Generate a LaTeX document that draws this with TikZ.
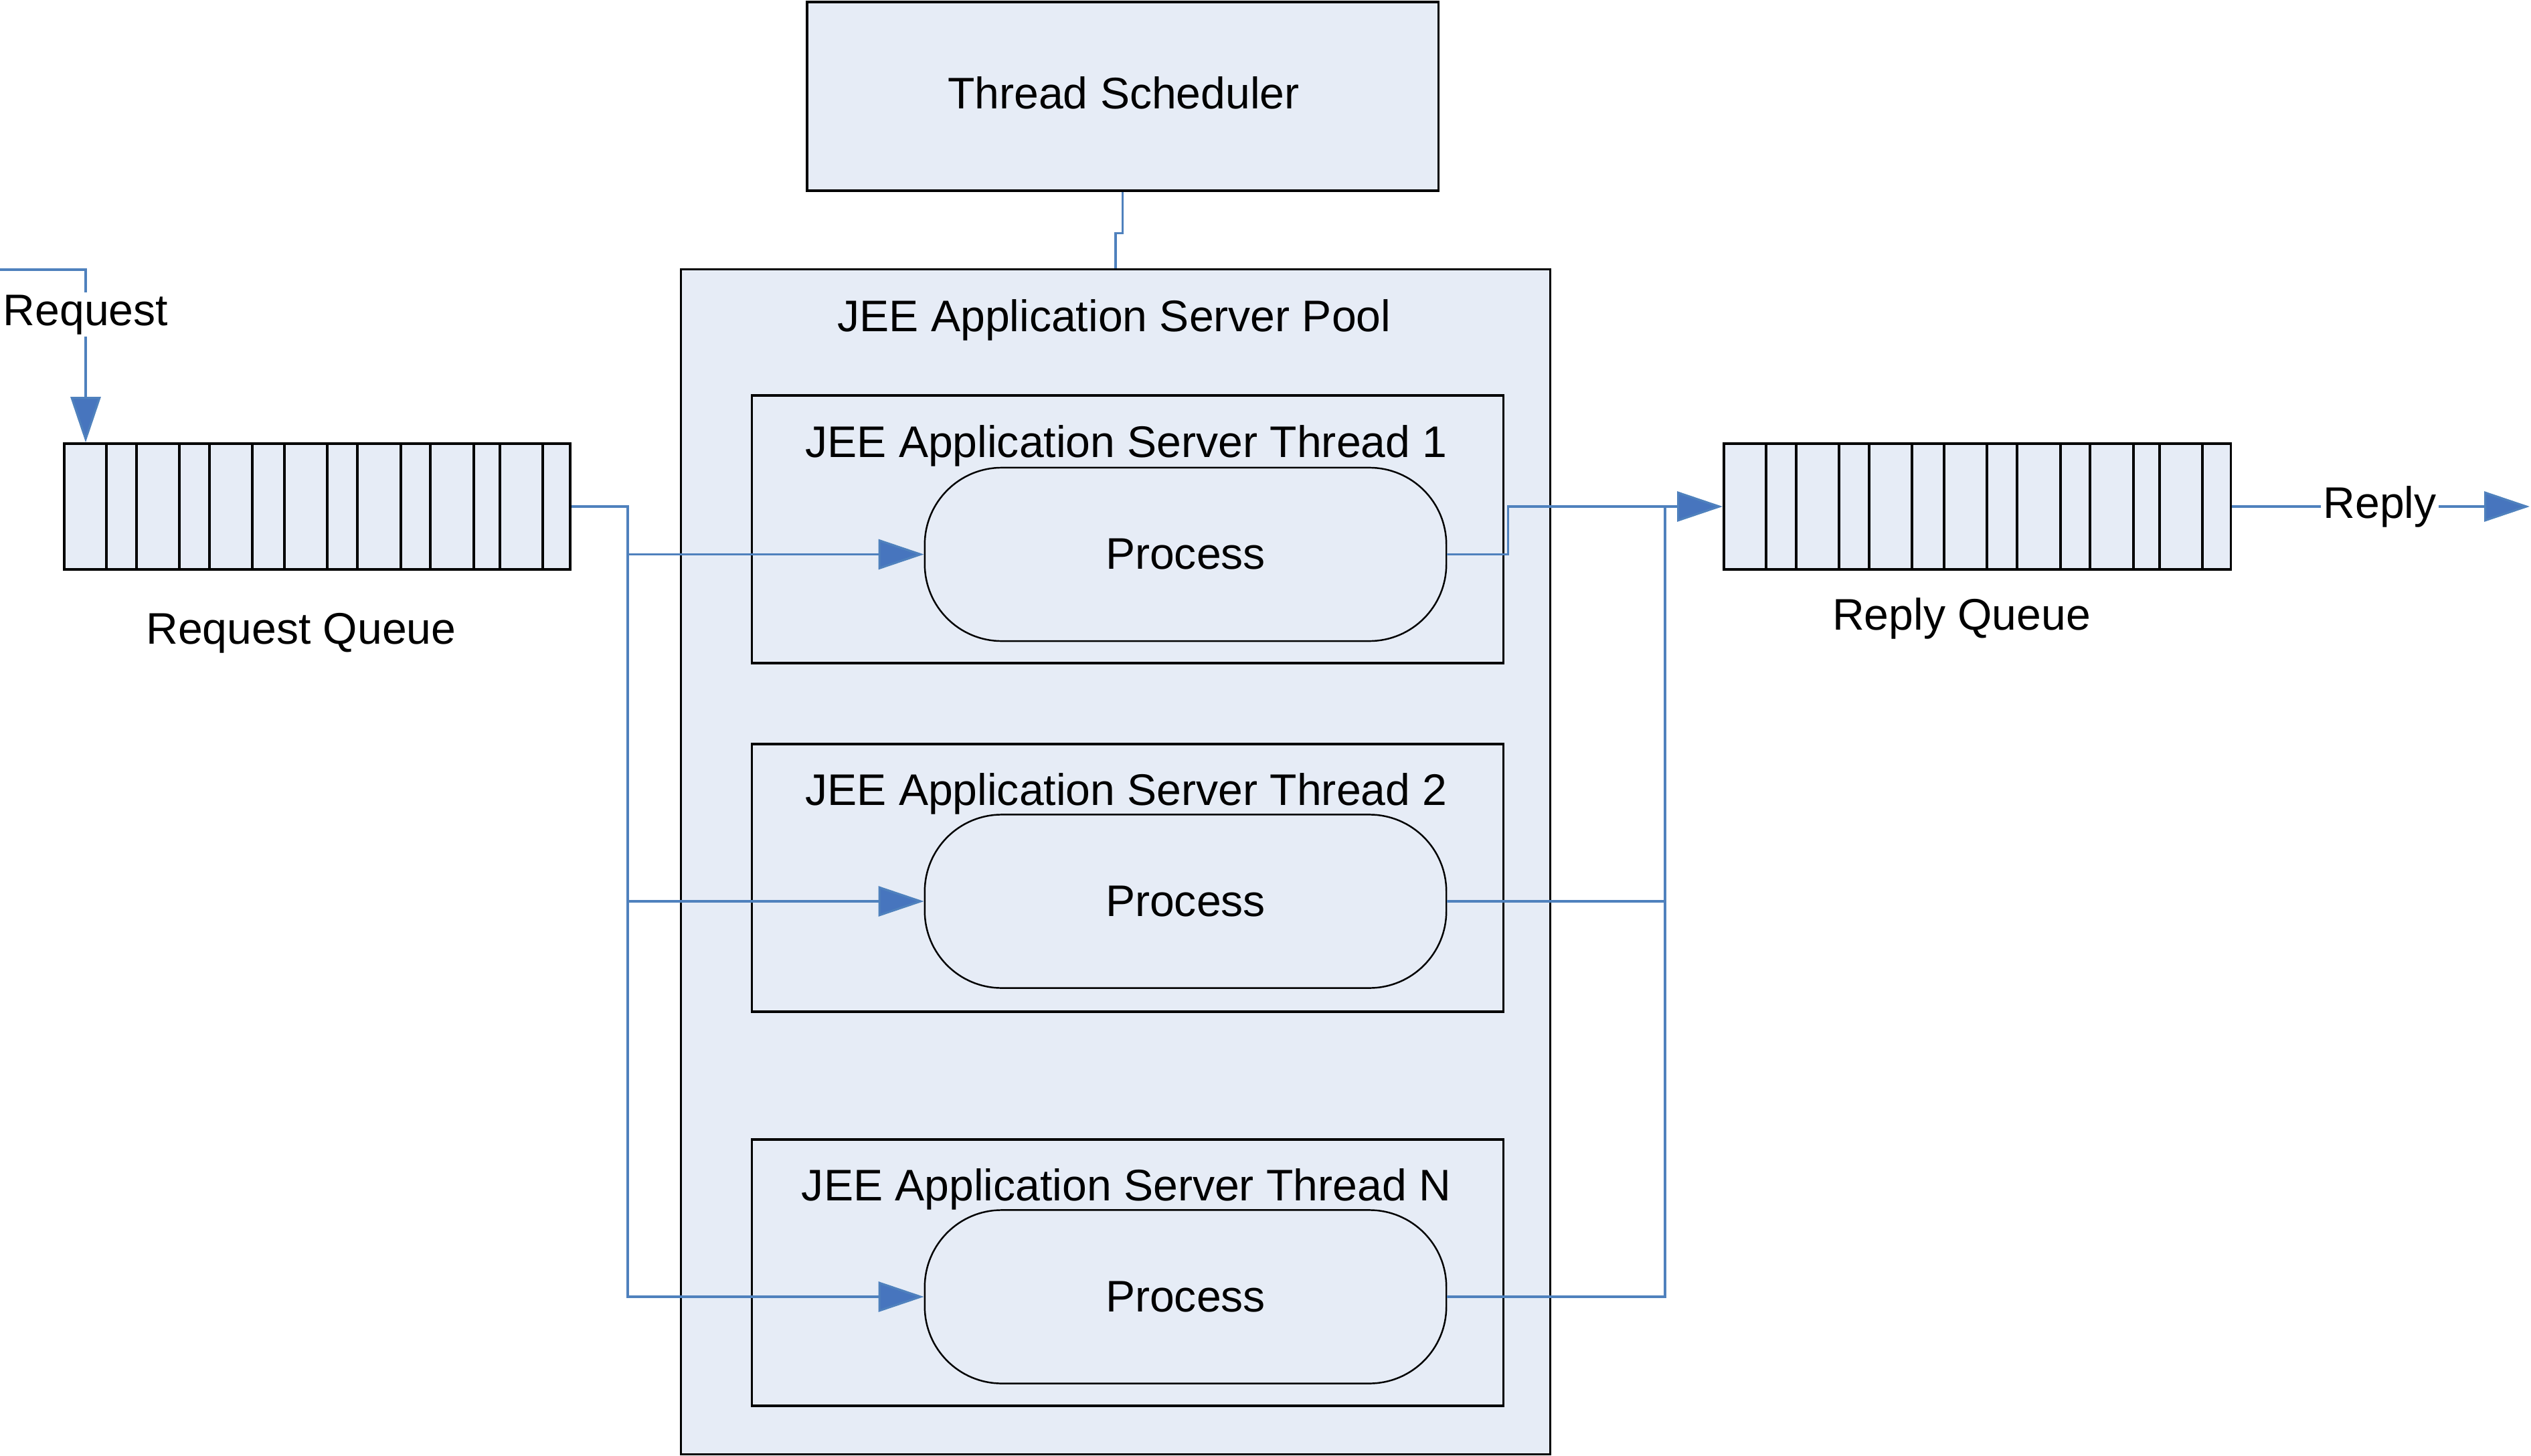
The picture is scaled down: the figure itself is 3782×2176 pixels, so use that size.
\documentclass[tikz,border=0pt]{standalone}
\usepackage{fontspec}
\setmainfont{Liberation Sans}
\usetikzlibrary{arrows.meta,calc}
\definecolor{boxfill}{RGB}{230,236,246}
\definecolor{connblue}{RGB}{79,129,189}
\definecolor{tipblue}{RGB}{71,117,190}
\begin{document}
\begin{tikzpicture}[x=0.01cm,y=-0.01cm,
  box/.style={draw=black, line width=1pt, fill=boxfill, inner sep=0pt},
  proc/.style={draw=black, line width=0.7pt, fill=boxfill, rounded corners=1.15cm, inner sep=0pt,
               minimum width=7.79cm, minimum height=2.59cm, font=\fontsize{18.8pt}{22pt}\selectfont},
  lbl/.style={font=\fontsize{18.8pt}{22pt}\selectfont, inner sep=1pt},
  conn/.style={draw=connblue, line width=0.9pt},
  arr/.style={conn, -{Triangle[length=0.68cm,width=0.45cm,fill=tipblue]}},
  qline/.style={draw=black, line width=0.9pt}]
\useasboundingbox (0,0) rectangle (3782,2176);

% Thread scheduler and pool
\node[box, minimum width=9.43cm, minimum height=2.82cm] (sched) at (1677.5,144) {};
\node[lbl] (schedtitle) at (1679,139) {Thread Scheduler};
\node[box, minimum width=12.98cm, minimum height=17.70cm] (pool) at (1667,1288) {};
\node[lbl] (pooltitle) at (1665,478) {JEE Application Server Pool};

% Threads
\node[box, minimum width=11.22cm, minimum height=4.00cm] (t1) at (1685,791) {};
\node[box, minimum width=11.22cm, minimum height=4.00cm] (t2) at (1685,1312) {};
\node[box, minimum width=11.22cm, minimum height=3.98cm] (tn) at (1685,1902) {};
\node[lbl] (t1title) at (1683,666) {JEE Application Server Thread 1};
\node[lbl] (t2title) at (1683,1186) {JEE Application Server Thread 2};
\node[lbl] (tntitle) at (1683,1777) {JEE Application Server Thread N};

% Processes
\node[proc] (p1) at (1771.5,828.5) {Process};
\node[proc] (p2) at (1771.5,1347) {Process};
\node[proc] (pn) at (1771.5,1938) {Process};

% Queues
\node[box, minimum width=7.56cm, minimum height=1.88cm] (rq) at (474,757) {};
\node[box, minimum width=7.57cm, minimum height=1.88cm] (pq) at (2954.5,757) {};
\foreach \o in {65,110,174,219,283,331,395,440,505,549,614,653,717}{
  \draw[qline] ([xshift=\o*0.01cm]rq.north west) -- ([xshift=\o*0.01cm]rq.south west);
  \draw[qline] ([xshift=\o*0.01cm]pq.north west) -- ([xshift=\o*0.01cm]pq.south west);
}
\node[lbl] (rqlabel) at (450,946) {Request Queue};
\node[lbl] (pqlabel) at (2931,924) {Reply Queue};

% Scheduler to pool
\draw[conn] (sched.south) -- ++(0,62) -| (pool.north);

% Request in
\coordinate (reqin) at (0,403);
\coordinate (reqbend) at (128,403);
\draw[arr] (reqin) -- (reqbend) -- node[lbl, fill=white, pos=0.26] {Request} (rq.north -| reqbend);

% Request queue to processes
\coordinate (lsplit) at (938,757);
\draw[arr] (rq.east) -- (lsplit) |- (p1.west);
\draw[arr] (lsplit) |- (p2.west);
\draw[arr] (lsplit) |- (pn.west);

% Processes to reply queue
\coordinate (rj) at (2488,757);
\draw[arr] (p1.east) -- ++(91,0) |- (pq.west);
\draw[conn] (p2.east) -| (rj);
\draw[conn] (pn.east) -| (rj);

% Reply out
\coordinate (replyout) at (3780,757);
\draw[arr] (pq.east) -- node[lbl, fill=white, pos=0.497] {Reply} (replyout);
\end{tikzpicture}
\end{document}
